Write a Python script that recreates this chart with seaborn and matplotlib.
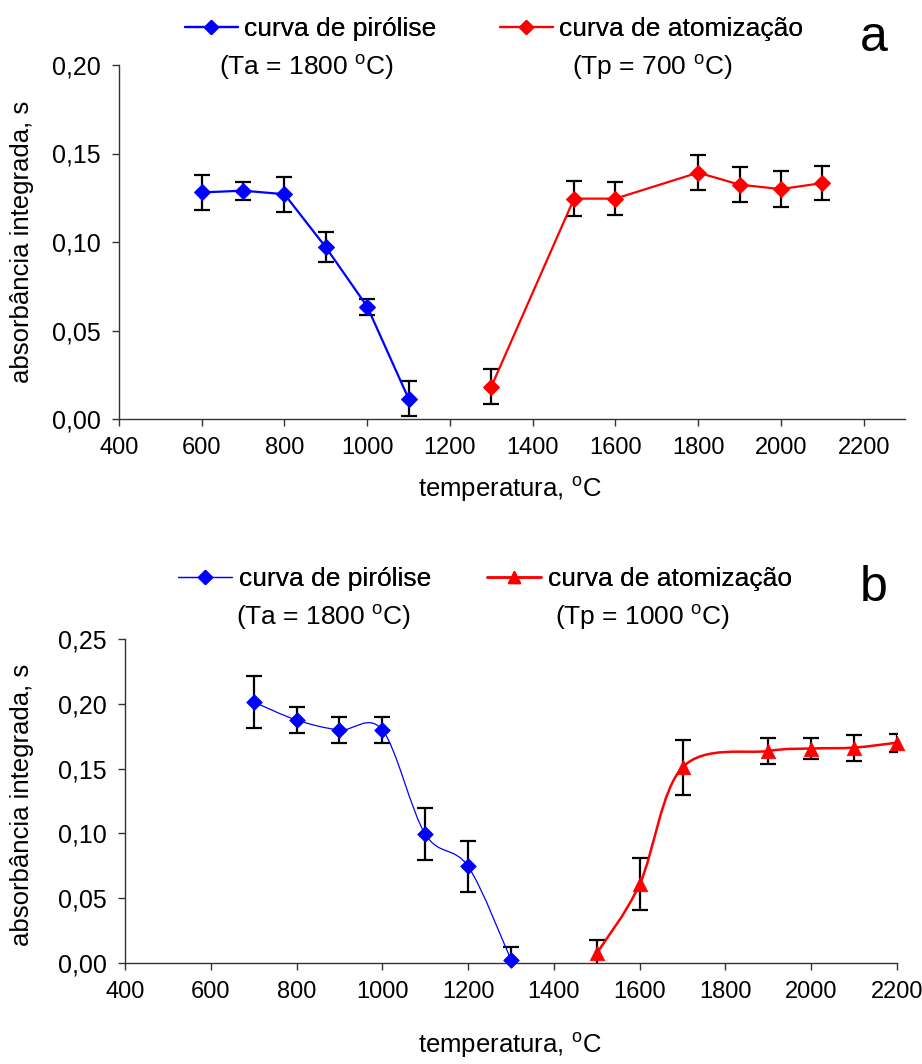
import numpy as np
import pandas as pd
import matplotlib
matplotlib.use('Agg')
import matplotlib.pyplot as plt
import seaborn as sns
from matplotlib.path import Path
from matplotlib.patches import PathPatch
from matplotlib.lines import Line2D
from matplotlib.ticker import FuncFormatter, FixedLocator

# ---------------- data: panel a ----------------
a_pyr_temp = [600, 700, 800, 900, 1000, 1100]
a_pyr_abs = [0.128, 0.129, 0.127, 0.097, 0.0635, 0.0115]
a_pyr_err = [0.010, 0.005, 0.010, 0.0085, 0.0045, 0.010]
a_atom_temp = [1300, 1500, 1600, 1800, 1900, 2000, 2100]
a_atom_abs = [0.0183, 0.1245, 0.1245, 0.1392, 0.1324, 0.1299, 0.1333]
a_atom_err = [0.010, 0.010, 0.0095, 0.010, 0.010, 0.010, 0.0095]

# ---------------- data: panel b ----------------
b_pyr_temp = [700, 800, 900, 1000, 1100, 1200, 1300]
b_pyr_abs = [0.2014, 0.1875, 0.1798, 0.1798, 0.0995, 0.0745, 0.0025]
b_pyr_err = [0.020, 0.010, 0.010, 0.010, 0.020, 0.020, 0.0095]
b_atom_temp = [1500, 1600, 1700, 1900, 2000, 2100, 2200]
b_atom_abs = [0.0075, 0.0608, 0.151, 0.1636, 0.1655, 0.1662, 0.1700]
b_atom_err = [0.010, 0.020, 0.021, 0.010, 0.008, 0.010, 0.007]

x_ticks = [400, 600, 800, 1000, 1200, 1400, 1600, 1800, 2000, 2200]
a_y_ticks = [0.00, 0.05, 0.10, 0.15, 0.20]
b_y_ticks = [0.00, 0.05, 0.10, 0.15, 0.20, 0.25]

label_pyr = "curva de pirólise"
label_atom = "curva de atomização"
a_pyr_cond = r"(Ta = 1800 $\mathregular{^{o}}$C)"
a_atom_cond = r"(Tp = 700 $\mathregular{^{o}}$C)"
b_pyr_cond = r"(Ta = 1800 $\mathregular{^{o}}$C)"
b_atom_cond = r"(Tp = 1000 $\mathregular{^{o}}$C)"
xlabel = r"temperatura, $\mathregular{^{o}}$C"
ylabel = "absorbância integrada, s"

sns.set_style("white")
plt.rcParams['font.family'] = ['Liberation Sans', 'DejaVu Sans']
plt.rcParams['mathtext.fontset'] = 'custom'
plt.rcParams['mathtext.rm'] = 'Liberation Sans'
plt.rcParams['mathtext.it'] = 'Liberation Sans:italic'
plt.rcParams['mathtext.bf'] = 'Liberation Sans:bold'
plt.rcParams['text.color'] = 'black'
plt.rcParams['axes.labelcolor'] = 'black'
plt.rcParams['xtick.color'] = 'black'
plt.rcParams['ytick.color'] = 'black'

FS_XTICK = 17
FS_YTICK = 18
FS_LAB = 18.5
FS_LEG = 19
W, H = 922, 1064
fig = plt.figure(figsize=(W / 100, H / 100), dpi=100)


def fx(px):
    return px / W


def fy(py):
    return 1 - py / H


axA = fig.add_axes([fx(119), fy(419), fx(905) - fx(119), fy(65) - fy(419)])
axB = fig.add_axes([fx(125), fy(963), fx(897) - fx(125), fy(639) - fy(963)])

comma = FuncFormatter(lambda v, p: f"{v:.2f}".replace('.', ','))


def style_axes(ax, xlim, yticks):
    ax.set_xlim(*xlim)
    ax.set_ylim(yticks[0], yticks[-1])
    ax.xaxis.set_major_locator(FixedLocator(x_ticks))
    ax.yaxis.set_major_locator(FixedLocator(yticks))
    ax.yaxis.set_major_formatter(comma)
    for s in ['top', 'right']:
        ax.spines[s].set_visible(False)
    for s in ['left', 'bottom']:
        ax.spines[s].set_color('#333333')
        ax.spines[s].set_linewidth(1.0)
    ax.tick_params(axis='both', direction='out', length=5, width=1,
                   color='#333333', labelcolor='black',
                   bottom=True, left=True)
    ax.tick_params(axis='x', pad=8, labelsize=FS_XTICK)
    ax.tick_params(axis='y', pad=8, labelsize=FS_YTICK)
    ax.grid(False)


def set_labels(ax, xpos, ypos):
    ax.set_xlabel(xlabel, fontsize=FS_LAB)
    ax.set_ylabel(ylabel, fontsize=FS_LAB)
    ax.xaxis.set_label_coords(*xpos)
    ax.yaxis.set_label_coords(*ypos)
    ax.xaxis.label.set_va('center')
    ax.yaxis.label.set_va('center')


def smooth_path(ax, xs, ys, color, lw):
    # Excel-style smoothed line: cubic Bezier segments through the data points
    pts = np.column_stack([xs, ys]).astype(float)
    n = len(pts)
    verts = [pts[0]]
    codes = [Path.MOVETO]
    for i in range(n - 1):
        p0 = pts[i - 1] if i > 0 else pts[i]
        p1 = pts[i]
        p2 = pts[i + 1]
        p3 = pts[i + 2] if i + 2 < n else pts[i + 1]
        c1 = p1 + (p2 - p0) / 6.0
        c2 = p2 - (p3 - p1) / 6.0
        verts += [c1, c2, p2]
        codes += [Path.CURVE4] * 3
    patch = PathPatch(Path(verts, codes), facecolor='none', edgecolor=color,
                      lw=lw, zorder=2)
    ax.add_patch(patch)


EB = dict(fmt='none', ecolor='black', elinewidth=1.6, capsize=5.5,
          capthick=1.6, zorder=1)

# ---------------- panel a ----------------
style_axes(axA, (400, 2300), a_y_ticks)
dfa_p = pd.DataFrame({'t': a_pyr_temp, 'a': a_pyr_abs})
dfa_a = pd.DataFrame({'t': a_atom_temp, 'a': a_atom_abs})
axA.errorbar(a_pyr_temp, a_pyr_abs, yerr=a_pyr_err, **EB)
axA.errorbar(a_atom_temp, a_atom_abs, yerr=a_atom_err, **EB)
sns.lineplot(data=dfa_p, x='t', y='a', ax=axA, color='blue', lw=1.6,
             marker='D', markersize=8, markeredgecolor='blue', zorder=3)
sns.lineplot(data=dfa_a, x='t', y='a', ax=axA, color='red', lw=1.6,
             marker='D', markersize=8, markeredgecolor='red', zorder=3)
set_labels(axA, ((510 - 119) / 786, (419 - 490) / 354),
           ((22 - 119) / 786, (419 - 242) / 354))

# ---------------- panel b ----------------
style_axes(axB, (400, 2200), b_y_ticks)
dfb_p = pd.DataFrame({'t': b_pyr_temp, 'a': b_pyr_abs})
dfb_a = pd.DataFrame({'t': b_atom_temp, 'a': b_atom_abs})
axB.errorbar(b_pyr_temp, b_pyr_abs, yerr=b_pyr_err, **EB)
axB.errorbar(b_atom_temp, b_atom_abs, yerr=b_atom_err, **EB)
smooth_path(axB, b_pyr_temp, b_pyr_abs, 'blue', 0.9)
smooth_path(axB, b_atom_temp, b_atom_abs, 'red', 1.8)
sns.scatterplot(data=dfb_p, x='t', y='a', ax=axB, color='blue', marker='D',
                s=64, edgecolor='blue', linewidth=0.5, zorder=3, clip_on=False)
sns.scatterplot(data=dfb_a, x='t', y='a', ax=axB, color='red', marker='^',
                s=110, edgecolor='red', linewidth=0.5, zorder=3, clip_on=False)
set_labels(axB, ((510 - 125) / 772, (963 - 1045) / 324),
           ((22 - 125) / 772, (963 - 805) / 324))

# ---------------- legends ----------------
LEG = dict(frameon=False, loc='center left', borderpad=0, borderaxespad=0,
           fontsize=FS_LEG, handletextpad=0.25)


def legend_entry(handle, label, x, y, hl):
    leg = fig.legend([handle], [label], bbox_to_anchor=(fx(x), fy(y)),
                     handlelength=hl, **LEG)
    fig.add_artist(leg)


legend_entry(Line2D([], [], color='blue', lw=1.6, marker='D', ms=7),
             label_pyr, 185, 29, 2.0)
legend_entry(Line2D([], [], color='red', lw=1.6, marker='D', ms=7),
             label_atom, 500, 29, 2.0)
fig.text(fx(307), fy(68), a_pyr_cond, fontsize=FS_LEG, ha='center', va='center')
fig.text(fx(652), fy(68), a_atom_cond, fontsize=FS_LEG, ha='center', va='center')
fig.text(fx(874), fy(38), 'a', fontsize=36, ha='center', va='center')

legend_entry(Line2D([], [], color='blue', lw=0.9, marker='D', ms=7),
             label_pyr, 178, 579, 2.05)
legend_entry(Line2D([], [], color='red', lw=1.8, marker='^', ms=9),
             label_atom, 487, 579, 2.05)
fig.text(fx(324), fy(618), b_pyr_cond, fontsize=FS_LEG, ha='center', va='center')
fig.text(fx(643), fy(618), b_atom_cond, fontsize=FS_LEG, ha='center', va='center')
fig.text(fx(874), fy(588), 'b', fontsize=36, ha='center', va='center')

fig.savefig('out.png', dpi=100)
